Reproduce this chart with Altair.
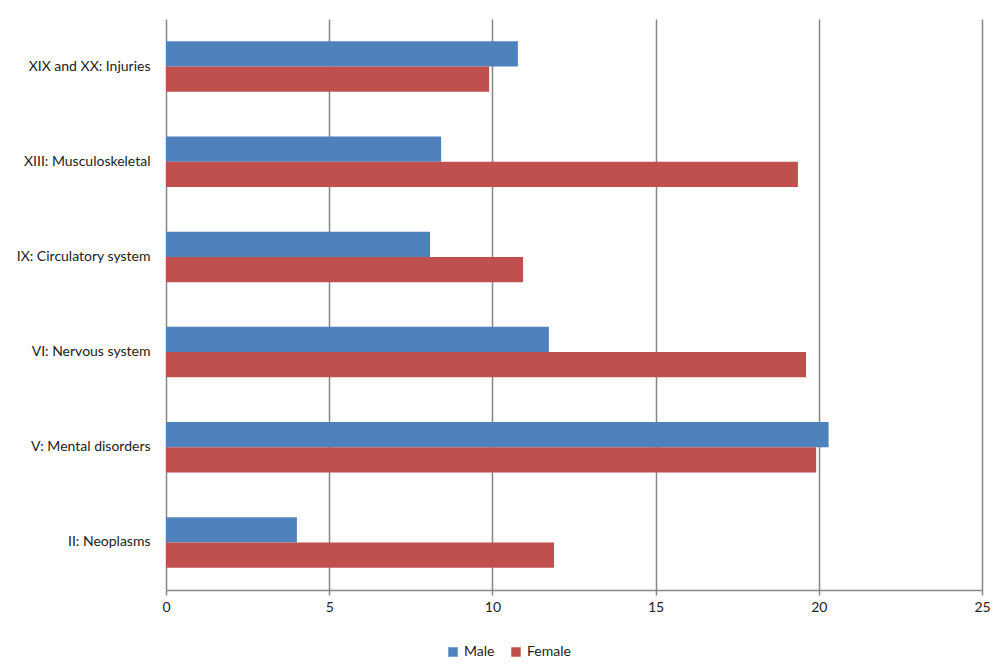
import altair as alt
import pandas as pd

categories = ["XIX and XX: Injuries", "XIII: Musculoskeletal", "IX: Circulatory system",
              "VI: Nervous system", "V: Mental disorders", "II: Neoplasms"]
male = [10.78, 8.43, 8.09, 11.73, 20.3, 4.01]
female = [9.9, 19.36, 10.94, 19.61, 19.92, 11.89]
series = ["Male", "Female"]
colors = ["#4F81BD", "#C0504D"]

rows = []
for c, m, f in zip(categories, male, female):
    rows.append({"category": c, "sex": "Male", "value": m})
    rows.append({"category": c, "sex": "Female", "value": f})
df = pd.DataFrame(rows)

FONT = "Lato"

chart = alt.Chart(df).mark_bar().encode(
    y=alt.Y("category:N", sort=categories, title=None,
            scale=alt.Scale(paddingInner=0.47, paddingOuter=0.235),
            axis=alt.Axis(ticks=False, domain=False, labelPadding=16, labelFontSize=14,
                          labelFont=FONT, labelColor="#222222", labelLimit=300)),
    yOffset=alt.YOffset("sex:N", sort=series),
    x=alt.X("value:Q", title=None,
            scale=alt.Scale(domain=[0, 25], nice=False),
            axis=alt.Axis(values=[0, 5, 10, 15, 20, 25], grid=True, gridColor="#868686",
                          gridWidth=1.5, domainColor="#868686", domainWidth=1.5,
                          tickColor="#868686", tickSize=5, tickWidth=1.5,
                          labelFontSize=14, labelFont=FONT, labelColor="#222222",
                          labelPadding=5, labelFlush=False)),
    color=alt.Color("sex:N", sort=series,
                    scale=alt.Scale(domain=series, range=colors),
                    legend=alt.Legend(title=None, orient="none", direction="horizontal",
                                      legendX=280, legendY=626, symbolType="square",
                                      symbolSize=90, symbolStrokeWidth=0, labelFontSize=14,
                                      labelFont=FONT, labelColor="#222222", columnPadding=14)),
).properties(
    width=816, height=571,
    autosize=alt.AutoSizeParams(type="none"),
    padding={"left": 158, "top": 11, "right": 10, "bottom": 76},
).configure_view(stroke=None)

chart.save("out.html", embed_options={"renderer": "svg", "actions": False})
